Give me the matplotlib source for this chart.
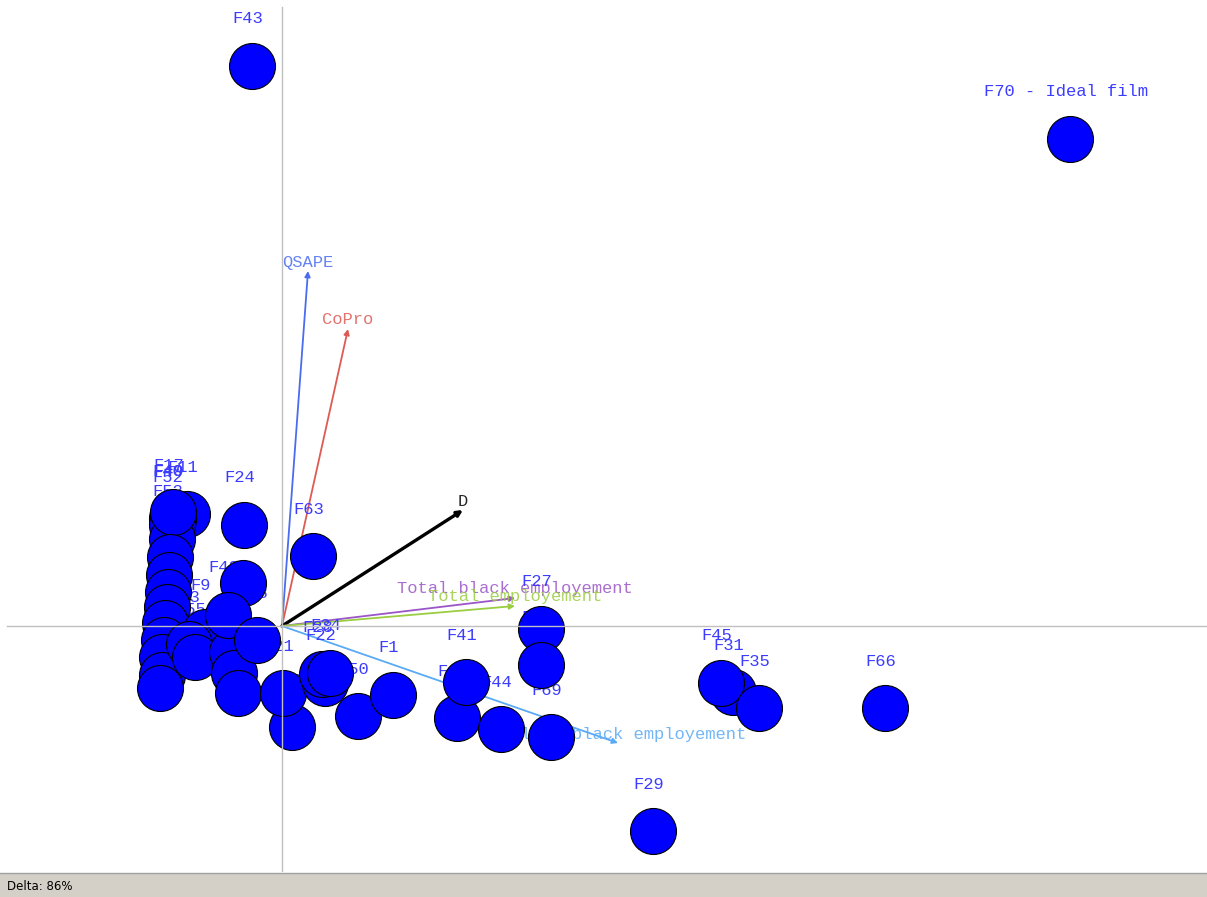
import matplotlib.pyplot as plt
from matplotlib.patches import Rectangle
from matplotlib.lines import Line2D

# film scores (biplot coordinates), drawn back to front
film_names = ['F11', 'F40', 'F49', 'F52', 'F53', 'F17', 'F2', 'F3', 'F5', 'F6', 'F7', 'F8',
              'F10', 'F14', 'F18', 'F9', 'F13', 'F55', 'F19', 'F15', 'F16', 'F46', 'F42',
              'F38', 'F24', 'F63', 'F23', 'F21', 'F22', 'F28', 'F34', 'F50', 'F1', 'F47',
              'F41', 'F44', 'F69', 'F27', 'F12', 'F31', 'F45', 'F35', 'F66', 'F29', 'F43',
              'F70 - Ideal film']
film_x = [-0.95, -1.10, -1.09, -1.10, -1.10, -1.09, -1.12, -1.13, -1.14, -1.15, -1.17, -1.18,
          -1.20, -1.20, -1.22, -0.77, -0.93, -0.87, -0.50, -0.48, -0.44, -0.39, -0.54,
          -0.25, -0.38, 0.31, 0.10, 0.01, 0.43, 0.40, 0.48, 0.76, 1.11, 1.75,
          1.84, 2.19, 2.69, 2.59, 2.59, 4.51, 4.39, 4.77, 6.03, 3.71, -0.30,
          7.88]
film_y = [1.12, 1.08, 1.07, 1.01, 0.87, 1.14, 0.69, 0.51, 0.34, 0.19, 0.03, -0.14,
          -0.31, -0.49, -0.62, -0.06, -0.18, -0.31, -0.26, -0.47, -0.67, 0.43, 0.11,
          -0.14, 1.01, 0.70, -1.01, -0.67, -0.57, -0.48, -0.47, -0.90, -0.69, -0.92,
          -0.56, -1.03, -1.11, -0.03, -0.39, -0.66, -0.57, -0.82, -0.82, -2.05, 5.60,
          4.87]

# criteria vectors
crit_names = ['QSAPE', 'CoPro', 'D', 'Total black employement', 'Total employement',
              'Skilled black employement']
crit_x = [0.26, 0.66, 1.81, 2.33, 2.33, 3.36]
crit_y = [3.55, 2.97, 1.16, 0.28, 0.20, -1.17]
crit_colors = ['#4a6cf0', '#dd5a55', '#000000', '#9b55c8', '#9acd40', '#5aaaf5']

fig = plt.figure(figsize=(12.07, 8.97), dpi=100)
ax = fig.add_axes([0, 25 / 897, 1, 872 / 897])
ax.set_xlim(-2.82, 9.25)
ax.set_ylim(-2.46, 6.26)
ax.set_axis_off()

mono = 'Liberation Mono'

for name, x, y, c in zip(crit_names, crit_x, crit_y, crit_colors):
    lw = 2.4 if name == 'D' else 1.3
    ax.annotate('', xy=(x, y), xytext=(0, 0),
                arrowprops=dict(arrowstyle='-|>', color=c, lw=lw, mutation_scale=8,
                                shrinkA=0, shrinkB=0), zorder=2)
    ax.annotate(name, xy=(x, y), xytext=(0, 9), textcoords='offset pixels',
                ha='center', va='center', color=c, family=mono, fontsize=12.3,
                alpha=0.85, zorder=2)

for name, x, y in zip(film_names, film_x, film_y):
    ax.annotate(name, xy=(x, y), xytext=(-4, 47), textcoords='offset pixels',
                ha='center', va='center', color='#3c3cff', family=mono, fontsize=12.3,
                zorder=2)

ax.scatter(film_x, film_y, s=1097, c='#0000ff', edgecolors='black', linewidths=0.8, zorder=3)

# axis lines on top
ax.plot([0, 0], [-2.46, 6.19], color='#c0c0c0', lw=1, zorder=4)
ax.plot([-2.75, 9.25], [0, 0], color='#c0c0c0', lw=1, zorder=4)

# status bar
fig.patches.append(Rectangle((0, 0), 1, 24 / 897, transform=fig.transFigure,
                             facecolor='#d4d0c8', edgecolor='none'))
fig.lines.append(Line2D([0, 1], [24 / 897, 24 / 897], transform=fig.transFigure,
                        color='#a0a0a0', lw=1))
fig.text(7 / 1207, 11 / 897, 'Delta: 86%', ha='left', va='center', fontsize=8.5,
         family='DejaVu Sans', color='black')

plt.savefig('out.png', dpi=100)
